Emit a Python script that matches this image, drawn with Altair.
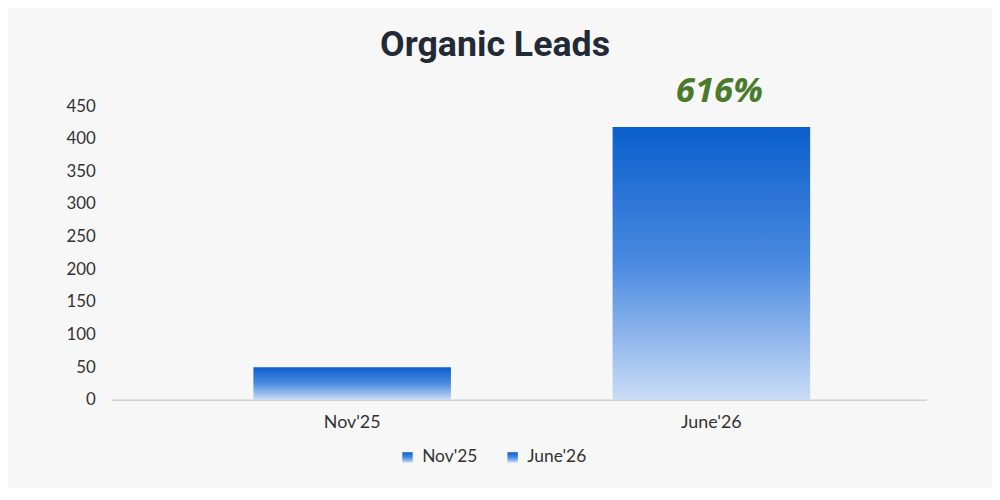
import altair as alt
import pandas as pd

# data
periods = ["Nov'25", "June'26"]
leads = [50, 418]
growth_labels = ["", "616%"]
y_ticks = [0, 50, 100, 150, 200, 250, 300, 350, 400, 450]

df = pd.DataFrame({"period": periods, "leads": leads, "growth": growth_labels})

blue_gradient = alt.Gradient(
    gradient="linear",
    x1=0, y1=0, x2=0, y2=1,
    stops=[
        alt.GradientStop(color="#0b5fcc", offset=0),
        alt.GradientStop(color="#4a8ae0", offset=0.5),
        alt.GradientStop(color="#cadcf6", offset=1),
    ],
)

x_enc = alt.X(
    "period:N",
    sort=periods,
    title=None,
    scale=alt.Scale(paddingInner=0.45, paddingOuter=0.36, align=0.55),
    axis=alt.Axis(
        labelAngle=0, labelFont="Lato", labelFontSize=18, labelColor="#333333",
        labelPadding=14, ticks=False, domainColor="#cfcfcf", domainWidth=1.5,
    ),
)

y_enc = alt.Y(
    "leads:Q",
    title=None,
    scale=alt.Scale(domain=[0, 450], nice=False),
    axis=alt.Axis(
        values=y_ticks, grid=False, domain=False, ticks=False,
        labelOverlap=False, labelFlush=False,
        labelFont="Lato", labelFontSize=17, labelColor="#333333", labelPadding=16,
    ),
)

bars = alt.Chart(df).mark_bar(color=blue_gradient, strokeWidth=0).encode(
    x=x_enc,
    y=y_enc,
    stroke=alt.Stroke(
        "period:N",
        sort=periods,
        scale=alt.Scale(domain=periods, range=["#2f74d6", "#2f74d6"]),
        legend=alt.Legend(
            title=None, orient="none", legendX=290, legendY=345, direction="horizontal",
            symbolType="square", symbolSize=110, symbolFillColor="#3b7ed8",
            symbolStrokeWidth=0, symbolOpacity=1,
            labelFont="Lato", labelFontSize=17.5, labelColor="#333333",
            labelOffset=6, columnPadding=26,
        ),
    ),
)

growth = alt.Chart(df).mark_text(
    font="Open Sans", fontSize=35, fontWeight="bold", fontStyle="italic",
    color="#4a7a2c", baseline="bottom", dx=8, dy=-18,
).encode(
    x=x_enc,
    y=y_enc,
    text="growth:N",
)

chart = alt.layer(bars, growth).properties(
    width=822,
    height=296,
    autosize=alt.AutoSizeParams(type="none"),
    padding={"left": 104, "top": 97, "right": 66, "bottom": 87},
    background="#f7f7f7",
    title=alt.TitleParams(
        "Organic Leads", font="Roboto", fontSize=36, fontWeight="bold",
        color="#222a36", anchor="middle", dx=-24, offset=11,
    ),
).configure_view(stroke=None)

chart.save("out.html", embed_options={"renderer": "svg", "actions": False})
